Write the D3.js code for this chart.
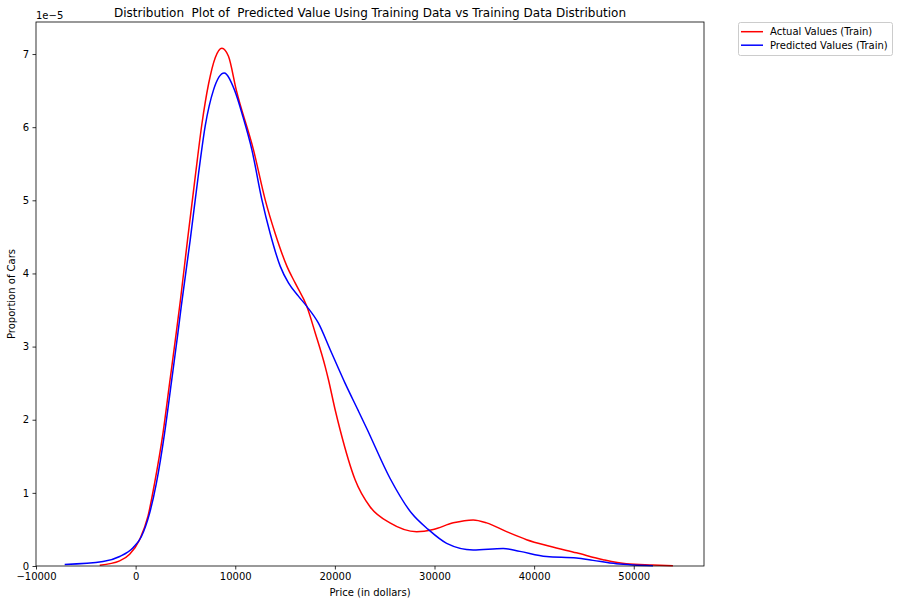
<!DOCTYPE html>
<html><head><meta charset="utf-8">
<script src="https://cdn.jsdelivr.net/npm/d3@7"></script>
<style>body{margin:0;background:#fff}text{font-family:"DejaVu Sans",sans-serif;fill:#000}</style>
</head><body>
<svg id="c" width="898" height="604"></svg>
<script>
const titleText = "Distribution  Plot of  Predicted Value Using Training Data vs Training Data Distribution";
const xLabel = "Price (in dollars)";
const yLabel = "Proportion of Cars";
const seriesNames = ["Actual Values (Train)", "Predicted Values (Train)"];
const xTicks = [-10000, 0, 10000, 20000, 30000, 40000, 50000];
const yTicks = [0, 1, 2, 3, 4, 5, 6, 7];
// price (dollars), density (x1e-5)
const actualPrice = [-3600,-1600,-600,400,1240,1900,2750,3410,4080,4500,5210,5990,6660,7320,7990,8660,9320,10100,11830,13000,14000,15180,16010,17180,18020,19020,19350,20020,20530,22030,23530,25530,28210,29870,31880,33880,35230,37230,39240,41570,44250,46920,49260,51930,53930];
const actualDens  = [0.01,0.07,0.16,0.36,0.68,1.13,1.82,2.50,3.19,3.64,4.46,5.33,6.05,6.59,6.95,7.08,6.97,6.51,5.69,5.01,4.55,4.10,3.87,3.55,3.19,2.73,2.55,2.14,1.86,1.18,0.81,0.59,0.47,0.50,0.59,0.63,0.59,0.47,0.36,0.27,0.18,0.086,0.03,0.014,0.004];
const predPrice = [-7120,-3270,-1600,-260,570,1400,2080,2910,3580,4250,4580,5480,6320,6990,7820,8890,9920,10800,11670,12670,13500,14510,15340,16340,17180,18350,19520,21020,22360,23200,25530,27710,29370,31220,33880,36890,38570,41240,44250,45910,48260,49920,51930];
const predDens  = [0.02,0.06,0.13,0.25,0.40,0.72,1.13,1.82,2.50,3.19,3.55,4.46,5.37,6.02,6.51,6.74,6.51,6.13,5.69,5.01,4.55,4.10,3.87,3.69,3.55,3.32,2.96,2.50,2.12,1.88,1.20,0.72,0.50,0.31,0.22,0.24,0.20,0.13,0.11,0.077,0.03,0.014,0.004];

const svg = d3.select("#c");
const L=36, R=704, T=22, B=566;
const x = d3.scaleLinear().domain([-10000, 57050]).range([L, R]);
const y = d3.scaleLinear().domain([0, 7.438]).range([B, T]);
const fmt = v => String(v).replace("-", "\u2212");

const line = d3.line().x(d=>x(d[0])).y(d=>y(d[1])).curve(d3.curveMonotoneX);
const g = svg.append("g");
g.append("path").datum(actualPrice.map((p,i)=>[p,actualDens[i]]))
 .attr("d", line).attr("fill","none").attr("stroke","#ff0000").attr("stroke-width",1.5);
g.append("path").datum(predPrice.map((p,i)=>[p,predDens[i]]))
 .attr("d", line).attr("fill","none").attr("stroke","#0000ff").attr("stroke-width",1.5);

const xa = svg.append("g").attr("transform",`translate(0,${B})`)
 .call(d3.axisBottom(x).tickValues(xTicks).tickFormat(fmt).tickSizeOuter(0).tickSize(3.5).tickPadding(3.5));
const ya = svg.append("g").attr("transform",`translate(${L},0)`)
 .call(d3.axisLeft(y).tickValues(yTicks).tickFormat(fmt).tickSizeOuter(0).tickSize(3.5).tickPadding(3.5));
[xa,ya].forEach(a=>{a.select(".domain").remove();a.selectAll("text").style("font-family","DejaVu Sans").style("font-size","10px").attr("fill","#000");a.selectAll("line").attr("stroke","#000").attr("stroke-width",0.8);});

svg.append("rect").attr("x",L).attr("y",T).attr("width",R-L).attr("height",B-T)
 .attr("fill","none").attr("stroke","#000").attr("stroke-width",0.8);

svg.append("text").attr("x",(L+R)/2).attr("y",17).attr("text-anchor","middle")
 .style("font-size","12px").style("white-space","pre").text(titleText);
svg.append("text").attr("x",L).attr("y",19).style("font-size","10px").text("1e\u22125");
svg.append("text").attr("x",(L+R)/2).attr("y",596).attr("text-anchor","middle").style("font-size","10px").text(xLabel);
svg.append("text").attr("transform",`translate(15,${(T+B)/2}) rotate(-90)`).attr("text-anchor","middle").style("font-size","10px").text(yLabel);

const lg = svg.append("g");
lg.append("rect").attr("x",738.5).attr("y",22.5).attr("width",154).attr("height",33).attr("rx",2)
 .attr("fill","#fff").attr("fill-opacity",0.8).attr("stroke","#ccc").attr("stroke-width",1);
const cols=["#ff0000","#0000ff"];
seriesNames.forEach((n,i)=>{
  const yy = 31.7 + i*13.5;
  lg.append("line").attr("x1",741).attr("x2",763).attr("y1",yy).attr("y2",yy).attr("stroke",cols[i]).attr("stroke-width",1.5);
  lg.append("text").attr("x",770).attr("y",yy+3.5).style("font-size","10px").text(n);
});
</script>
</body></html>
